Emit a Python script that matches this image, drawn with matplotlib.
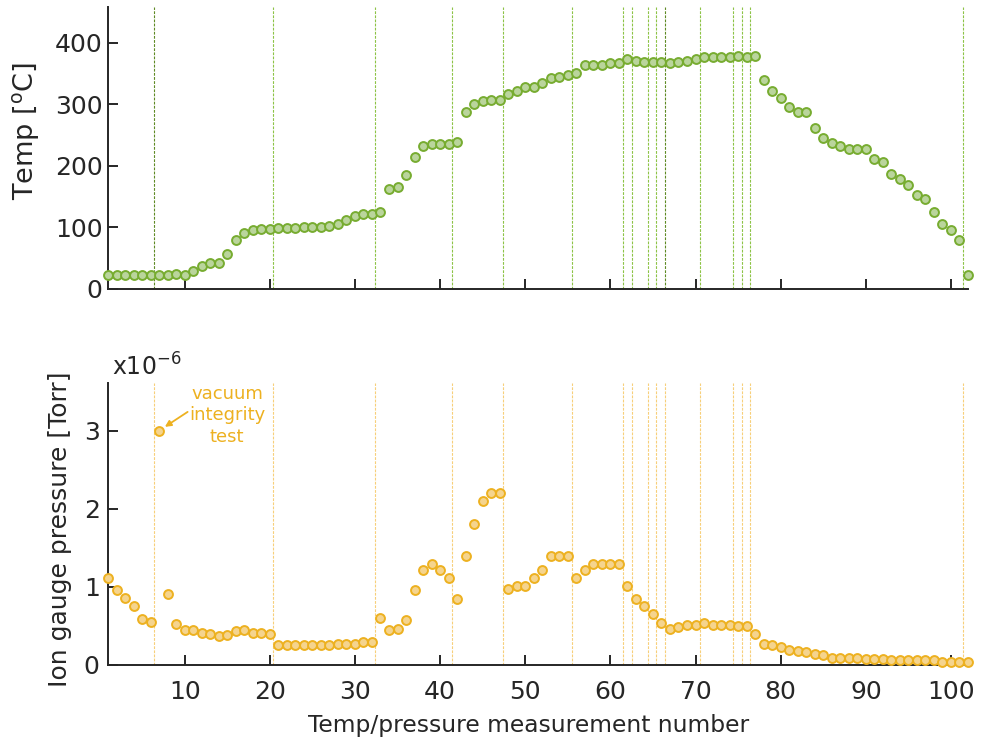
import matplotlib
matplotlib.use("Agg")
import matplotlib.pyplot as plt
import numpy as np

plt.rcParams['font.family'] = ['DejaVu Sans']

measurement = list(range(1, 103))

temperature_C = [
    22, 22, 22, 22, 22, 22, 22, 22, 25, 22,
    29, 38, 42, 42, 57, 80, 91, 96, 98, 97,
    99, 99, 99, 101, 101, 101, 103, 106, 112, 119,
    121, 121, 125, 163, 166, 185, 215, 232, 236, 236,
    236, 238, 288, 300, 305, 307, 307, 316, 322, 328,
    328, 335, 343, 345, 348, 350, 363, 364, 364, 367,
    367, 373, 371, 369, 369, 369, 367, 369, 371, 373,
    376, 376, 376, 376, 379, 377, 379, 339, 322, 311,
    296, 288, 288, 262, 245, 237, 232, 228, 228, 228,
    211, 206, 187, 179, 169, 153, 146, 125, 106, 96,
    79, 23,
]

pressure_1e6_Torr = [
    1.11, 0.96, 0.855, 0.75, 0.585, 0.55, 3.0, 0.905, 0.53, 0.45,
    0.45, 0.415, 0.40, 0.37, 0.385, 0.43, 0.45, 0.415, 0.415, 0.40,
    0.25, 0.25, 0.25, 0.25, 0.25, 0.25, 0.25, 0.265, 0.265, 0.265,
    0.30, 0.30, 0.60, 0.45, 0.465, 0.57, 0.957, 1.21, 1.295, 1.21,
    1.11, 0.84, 1.393, 1.80, 2.10, 2.205, 2.205, 0.975, 1.01, 1.01,
    1.11, 1.21, 1.393, 1.393, 1.393, 1.11, 1.21, 1.295, 1.295, 1.295,
    1.295, 1.01, 0.84, 0.75, 0.65, 0.535, 0.465, 0.483, 0.517, 0.517,
    0.535, 0.517, 0.517, 0.517, 0.50, 0.50, 0.40, 0.265, 0.25, 0.23,
    0.197, 0.18, 0.162, 0.145, 0.128, 0.094, 0.094, 0.094, 0.094, 0.077,
    0.077, 0.077, 0.06, 0.06, 0.06, 0.06, 0.06, 0.06, 0.043, 0.043,
    0.043, 0.043,
]

event_lines = [6.4, 20.4, 32.4, 41.4, 47.4, 55.5, 61.5, 62.5, 64.4, 65.4,
               66.4, 70.5, 74.4, 75.4, 76.4, 101.45]
dark_event_lines = [6.4, 66.4]

x_ticks = [10, 20, 30, 40, 50, 60, 70, 80, 90, 100]
temp_ticks = [0, 100, 200, 300, 400]
press_ticks = [0, 1, 2, 3]

GREEN = '#77AC30'
GREEN_LINE = '#8DC346'
GREEN_DARK_LINE = '#5E8A24'
GREEN_FACE = '#BAD59C'
YELLOW = '#EDB120'
YELLOW_LINE = '#F7CF7A'
YELLOW_FACE = '#F5D48E'
AXC = '#262626'

fig = plt.figure(figsize=(9.82, 7.42), dpi=100)
W, H = 982, 742
ax1 = fig.add_axes([108 / W, 1 - 289 / H, (968 - 108) / W, (289 - 7) / H])
ax2 = fig.add_axes([108 / W, 1 - 665 / H, (968 - 108) / W, (665 - 383) / H])


def style(ax):
    for s in ['top', 'right']:
        ax.spines[s].set_visible(False)
    for s in ['left', 'bottom']:
        ax.spines[s].set_color(AXC)
        ax.spines[s].set_linewidth(1.4)
    ax.tick_params(direction='in', length=7, width=1.4, color=AXC,
                   labelcolor=AXC, labelsize=18)
    ax.tick_params(axis='y', pad=4)
    ax.set_xlim(1, 102)
    ax.set_xticks(x_ticks)


style(ax1)
style(ax2)

for xv in event_lines:
    c = GREEN_DARK_LINE if xv in dark_event_lines else GREEN_LINE
    ax1.axvline(xv, color=c, lw=0.8, ls=(0, (2.5, 1.2)), zorder=1)
    ax2.axvline(xv, color=YELLOW_LINE, lw=0.8, ls=(0, (2.5, 1.2)), zorder=1)

ax1.plot(measurement, temperature_C, 'o', ms=6.4, mew=1.4,
         mfc=GREEN_FACE, mec=GREEN, zorder=3, clip_on=False)
ax1.set_ylim(0, 458)
ax1.set_yticks(temp_ticks)
ax1.tick_params(axis='x', labelbottom=False)
ax1.set_ylabel('Temp [$^{\\mathrm{o}}$C]', fontsize=19.5, color=AXC)
ax1.yaxis.set_label_coords(-0.077, 0.56)

ax2.plot(measurement, pressure_1e6_Torr, 'o', ms=6.4, mew=1.4,
         mfc=YELLOW_FACE, mec=YELLOW, zorder=3, clip_on=False)
ax2.set_ylim(0, 3.61)
ax2.set_yticks(press_ticks)
ax2.tick_params(axis='y', pad=6)
ax2.set_ylabel('Ion gauge pressure [Torr]', fontsize=18, color=AXC)
ax2.yaxis.set_label_coords(-0.042, 0.48)
ax2.tick_params(axis='x', pad=11)
ax2.set_xlabel('Temp/pressure measurement number', fontsize=16.8, color=AXC, labelpad=6)
ax2.xaxis.set_label_coords(0.489, -0.175)
ax2.text(0.005, 1.01, 'x10$^{\\mathregular{-6}}$', transform=ax2.transAxes,
         fontsize=17, color=AXC, ha='left', va='bottom')

ax2.text(15.0, 3.2, 'vacuum\nintegrity\ntest', fontsize=13, color=YELLOW,
         ha='center', va='center', linespacing=1.25)
ax2.annotate('', xy=(7.0, 3.0), xytext=(10.35, 3.24),
             arrowprops=dict(arrowstyle='-|>', color=YELLOW, lw=1.3,
                             shrinkA=0, shrinkB=5, mutation_scale=9))

fig.savefig('out.png', dpi=100)
